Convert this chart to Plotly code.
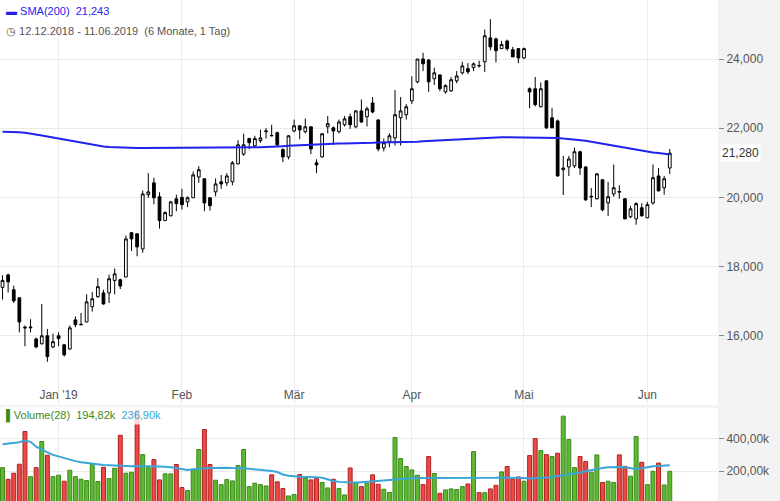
import pandas as pd
import plotly.graph_objects as go
from plotly.subplots import make_subplots

# trading days (Xetra), Dec 12 2018 onwards
holidays = ["2018-12-24", "2018-12-25", "2018-12-26", "2018-12-31", "2019-01-01",
            "2019-04-19", "2019-04-22", "2019-05-01", "2019-06-10"]
all_days = pd.bdate_range("2018-12-12", "2019-06-14")
dates = [d.strftime("%Y-%m-%d") for d in all_days if d.strftime("%Y-%m-%d") not in holidays][:120]

open_ = [17400, 17760, 17330, 17100, 16250, 16230, 15910, 15770, 16000, 15680,
         16000, 15740, 15620, 16460, 16320, 16400, 16840, 17130, 17240, 17240,
         17600, 17620, 17700, 18980, 18950, 18510, 20080, 20420, 20020, 19330,
         19470, 19960, 20000, 19870, 19990, 20590, 20540, 19990, 20160, 20450,
         20420, 20450, 20970, 21250, 21700, 21490, 21640, 21900, 21780, 21870,
         21380, 21170, 21920, 22070, 21900, 22040, 21000, 21170, 22040, 22010,
         21900, 22100, 22330, 22040, 22500, 22330, 22730, 22240, 21430, 21610,
         21720, 22300, 22390, 22790, 23340, 24000, 23970, 23430, 23540, 23050,
         23080, 23370, 23600, 23720, 23750, 23800, 23920, 24610, 24580, 24300,
         24520, 24270, 24300, 24030, 23140, 23140, 22620, 23370, 22300, 22210,
         20800, 20880, 20910, 21320, 20880, 20010, 19960, 20510, 19840, 20100,
         20150, 19960, 19440, 19380, 19700, 19410, 19840, 20620, 20280, 20850]
high = [17750, 17800, 17450, 17100, 16300, 16480, 15950, 16920, 16200, 16060,
        16100, 15750, 16300, 16560, 16660, 17200, 17270, 17670, 17330, 17770,
        17950, 17650, 18900, 19000, 18950, 20200, 20700, 20570, 20150, 19600,
        19900, 20080, 20250, 20030, 20750, 20900, 20540, 20000, 20550, 20650,
        20700, 21050, 21650, 21840, 21720, 21780, 21960, 22000, 22100, 21900,
        21420, 21800, 22250, 22080, 22280, 22040, 21100, 21850, 22350, 22050,
        22250, 22350, 22420, 22520, 22830, 22620, 22900, 22250, 21700, 21850,
        23100, 22900, 22700, 23500, 24000, 24180, 24000, 23750, 23540, 23270,
        23480, 23650, 23920, 23880, 23900, 23950, 24850, 25150, 24620, 24520,
        24560, 24350, 24300, 24330, 23180, 23480, 23320, 23370, 22590, 22250,
        21200, 21200, 21440, 21350, 20900, 20270, 20700, 20510, 20450, 20950,
        20350, 19980, 19750, 19860, 19830, 19870, 20950, 20850, 20620, 21400]
low = [17050, 17250, 16950, 16100, 15700, 16100, 15640, 15750, 15250, 15640,
       15700, 15400, 15600, 16250, 16300, 16400, 16700, 17100, 16900, 16950,
       17200, 17350, 17700, 18450, 18300, 18400, 19990, 19800, 19100, 19330,
       19450, 19600, 19650, 19720, 19990, 20420, 19600, 19620, 20030, 20250,
       20330, 20350, 20950, 21200, 21400, 21450, 21580, 21700, 21760, 21480,
       21020, 21100, 21880, 21680, 21850, 21250, 20700, 21150, 21850, 21520,
       21850, 22050, 21980, 22000, 22150, 22050, 22430, 21330, 21330, 21450,
       21500, 21500, 22250, 22700, 23300, 23650, 23050, 23250, 23070, 23000,
       23050, 23300, 23550, 23560, 23650, 23750, 23620, 24250, 23900, 24300,
       24240, 24060, 23880, 24000, 22580, 22630, 22600, 21980, 22010, 20600,
       20070, 20620, 20850, 20650, 19900, 19720, 19940, 19600, 19460, 20020,
       19960, 19370, 19400, 19210, 19440, 19400, 19790, 20170, 20080, 20680]
close = [17600, 17560, 17010, 16400, 16230, 16250, 15680, 16000, 15400, 15830,
         15920, 15450, 16230, 16320, 16330, 16980, 17070, 17420, 16920, 17650,
         17790, 17440, 18800, 18800, 18570, 20100, 20160, 19990, 19330, 19560,
         19870, 19820, 19790, 19990, 20650, 20800, 19840, 19760, 20390, 20390,
         20620, 21000, 21520, 21520, 21580, 21700, 21720, 21920, 21790, 21520,
         21170, 21780, 22070, 21950, 22040, 21400, 20940, 21840, 22130, 21920,
         22180, 22270, 22100, 22500, 22180, 22560, 22470, 21400, 21580, 21780,
         22390, 22500, 22620, 23140, 24000, 23860, 23340, 23600, 23140, 23230,
         23400, 23510, 23800, 23630, 23860, 23810, 24670, 24350, 24240, 24420,
         24300, 24060, 24030, 24300, 23050, 22680, 23140, 22010, 22010, 20620,
         20850, 21110, 21320, 20850, 19930, 20030, 20680, 19640, 20020, 20280,
         20170, 19380, 19670, 19820, 19470, 19790, 20570, 20190, 20540, 21280]

sma200 = [21900, 21900, 21890, 21880, 21870, 21850, 21820, 21790, 21760, 21730,
          21700, 21670, 21640, 21600, 21570, 21540, 21510, 21490, 21470, 21460,
          21450, 21440, 21430, 21430, 21430, 21430, 21430, 21430, 21430, 21430,
          21430, 21430, 21430, 21430, 21430, 21430, 21430, 21430, 21430, 21430,
          21430, 21440, 21440, 21450, 21450, 21450, 21450, 21460, 21460, 21470,
          21480, 21490, 21500, 21510, 21520, 21530, 21540, 21550, 21550, 21560,
          21560, 21560, 21560, 21570, 21570, 21580, 21580, 21590, 21590, 21600,
          21600, 21600, 21610, 21610, 21610, 21620, 21630, 21640, 21650, 21660,
          21670, 21680, 21690, 21700, 21710, 21720, 21730, 21740, 21740, 21740,
          21740, 21740, 21740, 21740, 21740, 21740, 21740, 21740, 21740, 21720,
          21700, 21690, 21670, 21650, 21640, 21610, 21580, 21550, 21520, 21490,
          21460, 21450, 21420, 21390, 21360, 21320, 21300, 21280, 21260, 21243]

volume = [222, 151, 188, 243, 443, 167, 222, 382, 298, 167,
          176, 139, 206, 167, 151, 143, 243, 137, 224, 155,
          218, 420, 188, 194, 571, 302, 222, 271, 147, 184,
          184, 241, 100, 82, 206, 333, 455, 241, 145, 118,
          149, 141, 235, 333, 106, 127, 118, 110, 178, 135,
          94, 49, 57, 180, 159, 147, 155, 131, 98, 151,
          94, 55, 220, 133, 106, 127, 178, 120, 90, 70,
          406, 278, 229, 208, 176, 118, 290, 186, 65, 86,
          92, 88, 106, 122, 320, 69, 69, 92, 114, 196,
          229, 151, 165, 139, 296, 400, 327, 302, 290, 310,
          537, 394, 222, 290, 259, 194, 300, 131, 139, 131,
          300, 230, 170, 412, 255, 118, 200, 250, 116, 200]
vol_sma = [365, 368, 372, 378, 388, 380, 350, 330, 315, 300,
           290, 280, 270, 262, 255, 250, 246, 242, 238, 236,
           234, 232, 230, 230, 232, 232, 230, 230, 230, 228,
           225, 218, 212, 208, 212, 216, 218, 220, 220, 222,
           222, 220, 220, 218, 215, 212, 210, 205, 202, 195,
           180, 172, 168, 166, 165, 165, 163, 160, 150, 140,
           135, 132, 130, 130, 132, 135, 138, 142, 145, 148,
           150, 152, 155, 157, 158, 158, 158, 160, 160, 158,
           158, 158, 158, 156, 156, 158, 160, 160, 160, 162,
           162, 160, 160, 158, 155, 156, 158, 162, 165, 170,
           175, 180, 185, 192, 200, 208, 214, 220, 224, 226,
           226, 225, 220, 214, 218, 225, 230, 232, 234, 237]

month_ticks = ["2019-01-02", "2019-02-01", "2019-03-01", "2019-04-01", "2019-05-02", "2019-06-03"]
month_labels = ["Jan '19", "Feb", "Mär", "Apr", "Mai", "Jun"]

idx = list(range(len(dates)))
tick_idx = [dates.index(d) for d in month_ticks]

vol_colors = ["#5fb832" if i == 0 or close[i] >= close[i - 1] else "#ec4a46" for i in idx]
vol_lines = ["#3a8a1a" if c == "#5fb832" else "#b02020" for c in vol_colors]

fig = make_subplots(rows=2, cols=1, shared_xaxes=True)

fig.add_trace(go.Candlestick(
    x=idx, open=open_, high=high, low=low, close=close, text=dates,
    increasing=dict(fillcolor="white", line=dict(color="black", width=1)),
    decreasing=dict(fillcolor="black", line=dict(color="black", width=1)),
    whiskerwidth=0, showlegend=False), row=1, col=1)
fig.add_trace(go.Scatter(x=idx, y=sma200, mode="lines",
                         line=dict(color="#2222ee", width=2), showlegend=False), row=1, col=1)

fig.add_trace(go.Bar(x=idx, y=volume, marker=dict(color=vol_colors, line=dict(color=vol_lines, width=1)),
                     showlegend=False), row=2, col=1)
fig.add_trace(go.Scatter(x=idx, y=vol_sma, mode="lines",
                         line=dict(color="#3aa6d6", width=2), showlegend=False), row=2, col=1)

grid = "#ebebeb"
fig.update_xaxes(range=[-0.45, 127.6], tickvals=tick_idx, ticktext=month_labels,
                 showgrid=True, gridcolor=grid, rangeslider_visible=False, zeroline=False)
fig.update_xaxes(row=1, col=1, ticklabelposition="inside", showticklabels=True,
                 tickfont=dict(size=12, color="#555"))
fig.update_xaxes(row=2, col=1, showticklabels=False)
fig.update_yaxes(row=1, col=1, domain=[0.192, 1], side="right", range=[14006, 25705],
                 tickvals=[16000, 18000, 20000, 22000, 24000],
                 tickformat=",d", gridcolor=grid, ticks="outside", ticklen=5, tickcolor="#888",
                 tickfont=dict(size=12, color="#555"), zeroline=False)
fig.update_yaxes(row=2, col=1, domain=[0, 0.186], side="right", range=[18, 588], tickvals=[200, 400],
                 ticktext=["200,00k", "400,00k"], gridcolor=grid, ticks="outside", ticklen=5,
                 tickcolor="#888", tickfont=dict(size=12, color="#555"), zeroline=False)

fig.add_annotation(xref="paper", yref="paper", x=0.005, y=0.995, xanchor="left", yanchor="top",
                   showarrow=False, align="left",
                   text="<span style='color:#2222ee'>▬ SMA(200)</span>  <span style='color:#2222ee'>21,243</span>",
                   font=dict(size=11))
fig.add_annotation(xref="paper", yref="paper", x=0.005, y=0.955, xanchor="left", yanchor="top",
                   showarrow=False, text="◷ 12.12.2018 - 11.06.2019  (6 Monate, 1 Tag)",
                   font=dict(size=11, color="#555"))
fig.add_annotation(xref="paper", yref="y2", x=0.005, y=540, xanchor="left", yanchor="middle",
                   showarrow=False, bgcolor="rgba(255,255,255,0.8)",
                   text="<span style='color:#3a8a1a'>▌Volume(28)  194,82k</span>  <span style='color:#3aa6d6'>236,90k</span>",
                   font=dict(size=11))
fig.add_annotation(xref="paper", yref="y", x=1.0, y=close[-1], xanchor="left", yanchor="middle",
                   showarrow=False, text=f"{close[-1]:,}", bgcolor="white",
                   font=dict(size=12, color="#333"), xshift=2)

fig.update_layout(width=780, height=501, margin=dict(l=0, r=62, t=0, b=0),
                  paper_bgcolor="#f3f3f3", plot_bgcolor="white", bargap=0.3,
                  font=dict(family="Liberation Sans, Arial", size=12, color="#555"))

fig.write_html("out.html", config={"displayModeBar": False},
               post_script="document.body.style.margin='0';")
